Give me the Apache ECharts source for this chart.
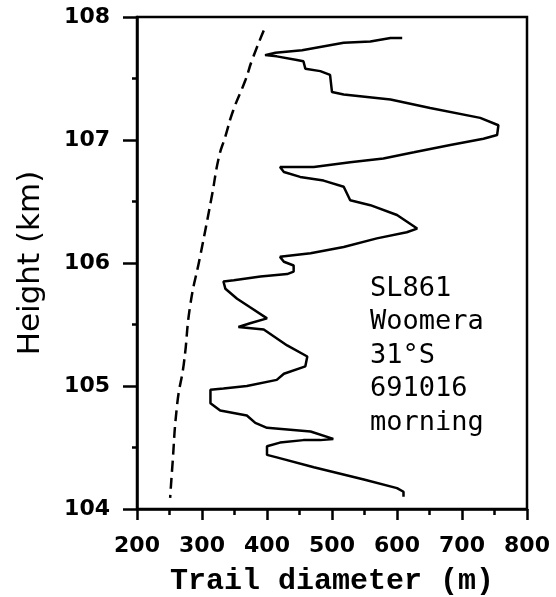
<!DOCTYPE html>
<html>
<head>
<meta charset="utf-8">
<script src="https://cdn.jsdelivr.net/npm/echarts@6/dist/echarts.min.js"></script>
<style>
html,body{margin:0;padding:0;background:#fff;}
#c{width:556px;height:597px;}
</style>
</head>
<body>
<div id="c"></div>
<script>
// Solid line: measured trail diameter (m) vs height (km)
const solidDiameter = [608,590,559,518,454,413,397,415,446,456,459,482,497,500,518,590,651,728,756,754,733,682,626,579,528,472,420,426,451,487,518,528,559,600,631,615,569,518,467,420,426,441,441,431,390,349,333,336,354,374,400,374,356,395,431,462,459,426,415,369,333,313,313,328,369,382,400,467,502,482,456,420,400,400,415,472,549,600,610,610];
const solidHeight = [107.83,107.83,107.80,107.79,107.73,107.71,107.69,107.68,107.65,107.64,107.58,107.56,107.53,107.39,107.37,107.33,107.26,107.18,107.12,107.04,107.01,106.96,106.90,106.85,106.82,106.78,106.78,106.74,106.70,106.67,106.62,106.51,106.47,106.39,106.28,106.25,106.20,106.13,106.08,106.05,106.01,105.98,105.93,105.91,105.89,105.86,105.85,105.79,105.71,105.64,105.55,105.51,105.48,105.46,105.33,105.24,105.16,105.10,105.05,105.00,104.98,104.97,104.86,104.80,104.76,104.70,104.66,104.63,104.57,104.56,104.56,104.54,104.51,104.44,104.42,104.34,104.24,104.17,104.14,104.10];
// Dashed line: reference curve
const dashedDiameter = [395,377,367,348,336,326,315,297,282,272,262,254,251];
const dashedHeight = [107.89,107.65,107.49,107.24,107.03,106.86,106.54,106.05,105.66,105.18,104.86,104.32,104.09];
const xTicks = [200,300,400,500,600,700,800];
const yTicks = [104,105,106,107,108];
const annotationLines = ['SL861','Woomera','31°S','691016','morning'];

const pair = (xs, ys) => xs.map((x, i) => [x, ys[i]]);

const chart = echarts.init(document.getElementById('c'), null, {renderer: 'canvas'});
chart.setOption({
  backgroundColor: '#ffffff',
  animation: false,
  grid: {left: 137, right: 29, top: 17, bottom: 88, containLabel: false, outerBoundsMode: 'none', show: true, borderColor: '#000', borderWidth: 2.5, backgroundColor: 'transparent'},
  xAxis: {
    type: 'value', min: xTicks[0], max: xTicks[xTicks.length - 1], interval: 100,
    name: 'Trail diameter (m)', nameLocation: 'middle', nameGap: 57,
    nameTextStyle: {fontFamily: 'Liberation Mono', fontWeight: 'bold', fontSize: 30, color: '#000'},
    axisLine: {show: true, lineStyle: {color: '#000', width: 2.5}},
    axisTick: {show: true, inside: false, length: 11, lineStyle: {color: '#000', width: 2.5}},
    minorTick: {show: true, splitNumber: 2, length: 6, lineStyle: {color: '#000', width: 2.5}},
    axisLabel: {margin: 26, fontFamily: 'DejaVu Sans', fontWeight: 'bold', fontSize: 22, color: '#000'},
    splitLine: {show: false}
  },
  yAxis: {
    type: 'value', min: yTicks[0], max: yTicks[yTicks.length - 1], interval: 1,
    name: 'Height (km)', nameLocation: 'middle', nameGap: 91, nameRotate: 90,
    nameTextStyle: {fontFamily: 'DejaVu Sans', fontSize: 31, color: '#000'},
    axisLine: {show: true, lineStyle: {color: '#000', width: 2.5}},
    axisTick: {show: true, inside: false, length: 14, lineStyle: {color: '#000', width: 2.5}},
    minorTick: {show: true, splitNumber: 2, length: 5, lineStyle: {color: '#000', width: 2.5}},
    axisLabel: {margin: 27, fontFamily: 'DejaVu Sans', fontWeight: 'bold', fontSize: 22, color: '#000'},
    splitLine: {show: false}
  },
  series: [
    {
      type: 'line', data: pair(solidDiameter, solidHeight), showSymbol: false, symbol: 'none',
      lineStyle: {color: '#000', width: 2.5}, z: 3
    },
    {
      type: 'line', data: pair(dashedDiameter, dashedHeight), showSymbol: false, symbol: 'none', smooth: true,
      lineStyle: {color: '#000', width: 2.5, type: [11, 6]}, z: 3
    }
  ],
  graphic: [{
    type: 'text', left: 370, top: 272,
    style: {text: annotationLines.join('\n'), font: '27px "DejaVu Sans Mono"', fill: '#000', lineHeight: 33.5}
  }]
});
</script>
</body>
</html>
